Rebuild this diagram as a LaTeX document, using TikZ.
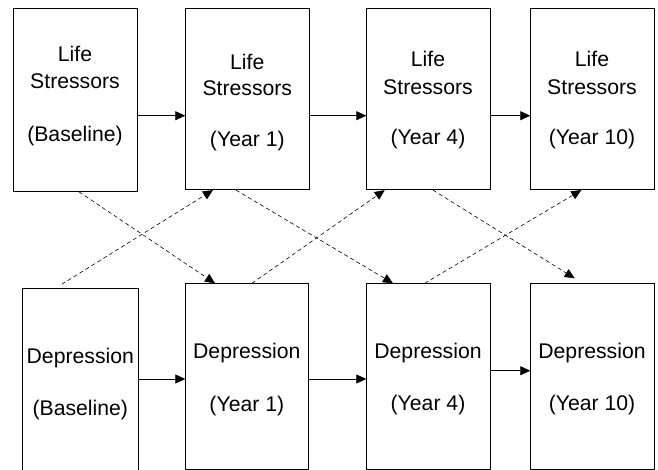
\documentclass[tikz,border=0pt]{standalone}
\usepackage{fontspec}
\setmainfont{Liberation Sans}
\usetikzlibrary{arrows.meta}
\begin{document}
\begin{tikzpicture}[x=1pt,y=-1pt,
  box/.style={draw=black, line width=0.8pt, inner sep=0pt, anchor=north west},
  lbl/.style={font=\fontsize{21.2}{26}\selectfont, anchor=base, inner sep=0pt},
  flow/.style={-{Triangle[length=10pt,width=9pt]}, line width=0.6pt},
  cross/.style={flow, dash pattern=on 4pt off 3pt}]
\useasboundingbox (0,0) rectangle (658,469);
\clip (0,0) rectangle (658,469);
% boxes
\node[box, minimum width=123.4pt, minimum height=182.7pt] (T1) at (13.3,8.3) {};
\node[box, minimum width=124pt, minimum height=181pt] (T2) at (185.3,8.3) {};
\node[box, minimum width=123.4pt, minimum height=181pt] (T3) at (366.3,8.3) {};
\node[box, minimum width=123.4pt, minimum height=181pt] (T4) at (530.3,8.3) {};
\node[box, minimum width=116.6pt, minimum height=185pt] (B1) at (21.7,288.3) {};
\node[box, minimum width=123pt, minimum height=185.2pt] (B2) at (185.3,283.3) {};
\node[box, minimum width=123.4pt, minimum height=185.2pt] (B3) at (366.3,283.3) {};
\node[box, minimum width=123.4pt, minimum height=185.2pt] (B4) at (530.3,283.3) {};
% texts
\node[lbl] (t1a) at (75,61.7) {Life};
\node[lbl] (t1b) at (75,88.3) {Stressors};
\node[lbl] (t1c) at (75,141.7) {(Baseline)};
\node[lbl] (t2a) at (247.3,69.3) {Life};
\node[lbl] (t2b) at (247.3,95) {Stressors};
\node[lbl] (t2c) at (247.3,146) {(Year 1)};
\node[lbl] (t3a) at (428,66.7) {Life};
\node[lbl] (t3b) at (428,94) {Stressors};
\node[lbl] (t3c) at (428,144) {(Year 4)};
\node[lbl] (t4a) at (592,66.7) {Life};
\node[lbl] (t4b) at (592,94) {Stressors};
\node[lbl] (t4c) at (592,144) {(Year 10)};
\node[lbl] (b1a) at (80.3,363.3) {Depression};
\node[lbl] (b1c) at (80.3,415) {(Baseline)};
\node[lbl] (b2a) at (246.8,358.3) {Depression};
\node[lbl] (b2c) at (246.8,411.7) {(Year 1)};
\node[lbl] (b3a) at (428,358.3) {Depression};
\node[lbl] (b3c) at (428,410) {(Year 4)};
\node[lbl] (b4a) at (592,358.3) {Depression};
\node[lbl] (b4c) at (592,410) {(Year 10)};
% solid arrows
\draw[flow] (T1.east |- 0,115.7) -- (T2.west |- 0,115.7);
\draw[flow] (T2.east |- 0,115.7) -- (T3.west |- 0,115.7);
\draw[flow] (T3.east |- 0,115.7) -- (T4.west |- 0,115.7);
\draw[flow] (B1.east |- 0,379) -- (B2.west |- 0,379);
\draw[flow] (B2.east |- 0,379) -- (B3.west |- 0,379);
\draw[flow] (B3.east |- 0,370.7) -- (B4.west |- 0,370.7);
% cross-lagged arrows
\draw[cross] (T1.south -| 79,0) -- (B2.north -| 215,0);
\draw[cross] ([yshift=4pt]B1.north -| 61.7,0) -- (T2.south -| 213,0);
\draw[cross] (T2.south -| 236,0) -- (B3.north -| 393,0);
\draw[cross] (B2.north -| 252,0) -- (T3.south -| 384.7,0);
\draw[cross] (T3.south -| 433,0) -- ([yshift=5pt]B4.north -| 574.7,0);
\draw[cross] (B3.north -| 424.7,0) -- (T4.south -| 581.3,0);
\end{tikzpicture}
\end{document}
